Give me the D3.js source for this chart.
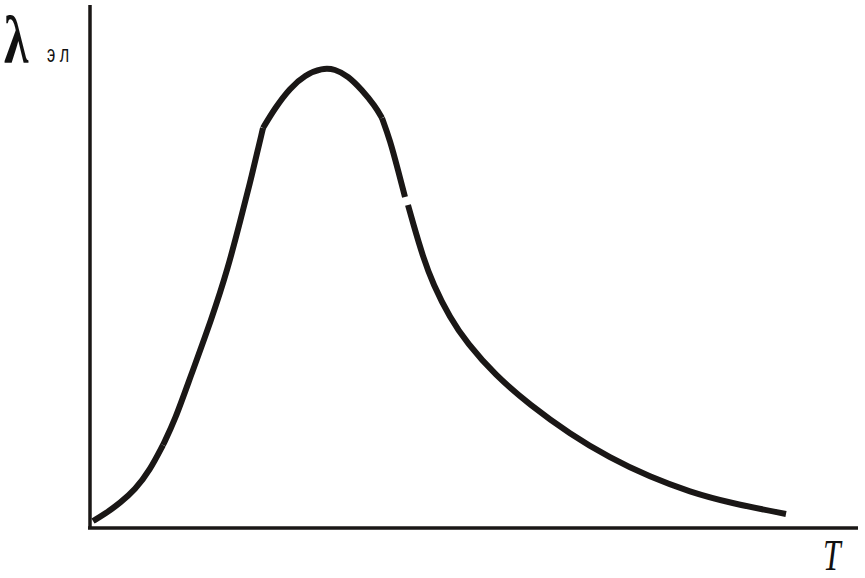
<!DOCTYPE html>
<html><head><meta charset="utf-8">
<script src="https://cdn.jsdelivr.net/npm/d3@7"></script>
<style>html,body{margin:0;padding:0;background:#fff;}svg{display:block;}</style>
</head><body>
<svg id="c" width="865" height="578"></svg>
<script>
// Curve values (arbitrary units: T, λэл), in pieces
const riseT = [3, 15, 30, 45, 60, 73];
const riseL = [7, 14, 25, 38, 58, 83];
const steepT = [73, 85, 100, 122, 138, 150, 162, 173];
const steepL = [83, 108, 150, 210, 260, 306, 353, 400];
const peakT = [173, 185, 200, 215, 232, 245, 258, 272, 285, 292];
const peakL = [400, 420, 440, 453, 460, 459, 452, 438, 422, 410];
const dropT = [292, 300, 308, 315];
const dropL = [410, 388, 358, 331];
const tailT = [318, 323, 333, 343, 360, 377, 405, 440, 480, 520, 560, 600, 640, 696];
const tailL = [323, 305, 271, 244, 210, 185, 153, 123, 94, 70, 51, 36, 25, 14];
const yLabel = "λ";
const ySub = "э л";
const xLabel = "T";

const svg = d3.select("#c");
const x = d3.scaleLinear().domain([0, 770]).range([90, 860]);
const y = d3.scaleLinear().domain([0, 523]).range([528, 5]);
const ink = "#1a1716";

// axes
svg.append("line").attr("x1", x(0)).attr("x2", x(0)).attr("y1", y(523)).attr("y2", y(0))
  .attr("stroke", ink).attr("stroke-width", 3.5);
svg.append("line").attr("x1", x(-2)).attr("x2", x(768)).attr("y1", y(0)).attr("y2", y(0))
  .attr("stroke", ink).attr("stroke-width", 3.5);

const smooth = d3.line().x(d => x(d[0])).y(d => y(d[1])).curve(d3.curveBasis);
[[riseT, riseL], [steepT, steepL], [peakT, peakL], [dropT, dropL], [tailT, tailL]].forEach(([ts, ls]) => {
  svg.append("path").datum(ts.map((t, i) => [t, ls[i]]))
    .attr("d", smooth).attr("fill", "none").attr("stroke", ink)
    .attr("stroke-width", 6).attr("stroke-linejoin", "round").attr("stroke-linecap", "butt");
});

svg.append("text").attr("transform", "translate(4,63) scale(0.74,1)").text(yLabel)
  .attr("font-family", "Liberation Serif, serif").attr("font-size", 67).attr("font-weight", "bold").attr("fill", "#111");
svg.append("text").attr("transform", "translate(47,62) scale(0.7,1)").text(ySub)
  .attr("font-family", "Liberation Sans, sans-serif").attr("font-size", 23).attr("fill", "#111");
svg.append("text").attr("transform", "translate(823,570) scale(0.72,1)").text(xLabel)
  .attr("font-family", "Liberation Serif, serif").attr("font-style", "italic").attr("font-size", 44).attr("fill", "#111");
</script>
</body></html>
